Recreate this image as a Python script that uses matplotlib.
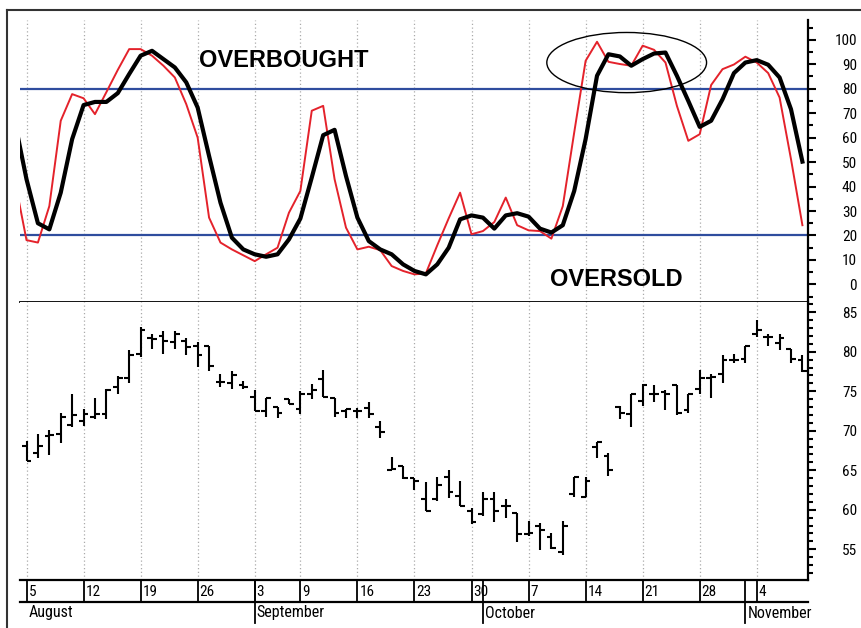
import numpy as np
import pandas as pd
import matplotlib
matplotlib.use("Agg")
import matplotlib.pyplot as plt
from matplotlib import font_manager
from matplotlib.patches import Ellipse
from matplotlib.lines import Line2D
from matplotlib.transforms import blended_transform_factory, offset_copy
from matplotlib.ticker import MultipleLocator, FixedLocator

# ---------------- data ----------------
trading_days = pd.bdate_range("2002-08-05", "2002-11-08")
trading_days = trading_days[trading_days != pd.Timestamp("2002-09-02")]  # Labor Day

opens = [68.1, 67.2, 69.3, 69.6, 70.7, 71.2, 71.7, 72.1, 75.5, 76.7,
         79.7, 81.8, 82.0, 81.2, 81.4, 80.7, 80.7, 76.2, 76.1, 75.8,
         74.3, 72.5, 73.0, 74.0, 72.7, 74.7, 76.5, 74.2, 72.5, 72.5,
         72.9, 70.5, 65.0, 65.5, 64.0, 61.3, 61.3, 64.2, 61.7, 59.9,
         59.4, 61.4, 60.5, 59.6, 56.9, 57.9, 56.5, 54.7, 62.0, 61.6,
         68.0, 66.8, 73.0, 72.1, 73.8, 74.7, 74.9, 75.8, 72.6, 75.3,
         76.7, 77.2, 78.9, 79.1, 82.3, 81.9, 81.1, 80.3, 78.9]
highs = [68.7, 69.6, 70.1, 72.3, 74.6, 72.8, 74.1, 75.3, 76.9, 80.2,
         83.1, 82.2, 82.6, 82.6, 81.7, 81.2, 80.7, 77.2, 77.6, 76.3,
         75.1, 74.1, 73.0, 74.0, 75.0, 75.9, 77.7, 74.2, 72.8, 72.9,
         73.7, 71.2, 66.7, 65.5, 64.0, 63.5, 64.1, 65.0, 63.6, 60.2,
         62.2, 62.2, 61.4, 59.6, 58.6, 58.3, 57.0, 58.6, 64.1, 64.1,
         68.6, 67.2, 73.1, 74.6, 75.9, 75.8, 75.1, 75.8, 74.7, 77.7,
         77.2, 79.6, 79.7, 80.7, 84.0, 82.3, 82.2, 80.3, 79.6]
lows = [66.2, 66.6, 66.9, 68.5, 70.5, 70.6, 71.5, 71.5, 74.7, 76.1,
        79.3, 80.3, 79.7, 80.4, 79.6, 78.1, 77.6, 75.5, 75.3, 75.3,
        72.5, 71.7, 71.6, 73.4, 72.1, 74.0, 74.3, 71.7, 71.6, 71.6,
        71.6, 69.1, 65.0, 63.9, 62.5, 59.8, 61.1, 61.5, 60.5, 58.2,
        59.2, 58.5, 59.0, 55.9, 56.7, 54.9, 55.0, 54.3, 61.6, 61.6,
        66.6, 64.3, 71.5, 70.5, 73.1, 73.7, 72.6, 72.0, 72.3, 74.6,
        74.2, 76.1, 78.6, 78.6, 81.9, 80.7, 80.2, 78.6, 77.4]
closes = [66.2, 68.1, 69.4, 71.7, 72.0, 72.1, 72.1, 75.2, 76.7, 79.6,
          82.8, 81.6, 81.3, 82.2, 80.6, 79.6, 78.2, 76.2, 77.1, 75.6,
          72.5, 74.1, 72.3, 73.4, 74.7, 75.2, 74.3, 72.2, 72.7, 72.5,
          72.1, 69.8, 65.1, 64.0, 63.6, 59.9, 63.1, 62.2, 60.5, 58.5,
          61.4, 59.9, 60.5, 56.9, 57.1, 57.4, 55.2, 58.0, 64.1, 63.6,
          68.6, 65.0, 72.3, 74.6, 75.8, 74.7, 74.7, 72.2, 74.7, 76.7,
          76.8, 78.9, 79.0, 80.7, 82.8, 81.9, 81.8, 79.1, 77.6]

# stochastic values start one session earlier (2002-08-02)
pct_k = [42.0, 18.1, 17.1, 32.0, 66.9, 77.8, 76.1, 69.6, 78.6, 87.7,
         96.2, 96.2, 93.5, 89.4, 84.6, 73.7, 60.0, 27.3, 17.1, 14.3,
         11.9, 9.5, 12.3, 15.0, 29.3, 38.2, 71.0, 73.0, 43.0, 23.2,
         14.3, 15.4, 14.0, 7.5, 5.5, 4.1, 4.5, 16.0, 27.0, 37.5,
         20.5, 21.8, 25.5, 35.5, 24.2, 22.1, 21.8, 18.7, 32.0, 62.1,
         91.4, 99.2, 91.0, 90.1, 89.4, 97.6, 95.9, 90.7, 73.0, 58.7,
         61.4, 81.5, 88.0, 89.9, 93.1, 90.7, 86.4, 76.4, 51.2, 24.2]
pct_d = [66.0, 43.0, 25.0, 22.5, 37.5, 59.4, 73.3, 74.6, 74.6, 78.2,
         86.0, 93.5, 95.5, 92.1, 88.7, 82.6, 72.3, 52.5, 33.4, 19.1,
         14.3, 12.3, 11.3, 12.3, 18.4, 26.9, 43.7, 61.0, 63.2, 44.3,
         27.3, 17.7, 14.3, 12.3, 8.2, 5.5, 4.1, 8.2, 15.0, 26.6,
         28.2, 27.3, 22.8, 28.2, 29.1, 27.7, 22.8, 21.2, 24.2, 38.2,
         59.4, 85.3, 94.1, 93.2, 89.4, 92.1, 94.4, 94.8, 85.3, 75.0,
         64.4, 66.9, 75.7, 86.4, 90.7, 91.7, 89.8, 84.6, 71.6, 50.2]

overbought_level = 80
oversold_level = 20
stoch_ticks = list(range(0, 101, 10))
price_ticks = list(range(55, 86, 5))

# ---------------- narrow font selection ----------------
def pick_narrow():
    ents = font_manager.fontManager.ttflist
    names = {f.name for f in ents}
    for cand in ["Liberation Sans Narrow", "Roboto Condensed", "Open Sans Condensed",
                 "Arial Narrow", "Nimbus Sans Narrow"]:
        if cand in names:
            return font_manager.FontProperties(family=cand)
    for f in ents:
        if f.name == "DejaVu Sans" and "condensed" in str(f.stretch).lower():
            return font_manager.FontProperties(fname=f.fname)
    for f in ents:
        if "ondensed" in f.fname or "Narrow" in f.fname:
            return font_manager.FontProperties(fname=f.fname)
    return font_manager.FontProperties(family="Liberation Sans")

NARROW = pick_narrow()

def nfp(size):
    p = NARROW.copy()
    p.set_size(size)
    return p

# ---------------- derived positions ----------------
n = len(trading_days)
xpos = np.arange(n)
xstoch = np.arange(-1, n)
iso_week = trading_days.isocalendar().week.values
week_idx = [i for i in range(n) if i == 0 or iso_week[i] != iso_week[i - 1]]
week_lbl = [str(trading_days[i].day) for i in week_idx]
month_idx = [i for i in range(n) if i > 0 and trading_days[i].month != trading_days[i - 1].month]
month_lbl_idx = [0] + month_idx
month_lbl = [trading_days[i].strftime("%B") for i in month_lbl_idx]

# ---------------- figure ----------------
W, H = 861, 628
fig = plt.figure(figsize=(W / 100, H / 100), dpi=100)
L, R = 20, 808
ax1 = fig.add_axes([L / W, 1 - 302 / H, (R - L) / W, (302 - 20) / H])
ax2 = fig.add_axes([L / W, 1 - 580 / H, (R - L) / W, (580 - 302) / H])

xlim = (-0.57, 68.49)
grid_kw = dict(color="#aaaaaa", lw=0.9, ls=(0, (1, 2)), zorder=0)
for ax in (ax1, ax2):
    ax.set_xlim(*xlim)
    for i in week_idx:
        ax.axvline(i, **grid_kw)
    ax.set_xticks([])
    for s in ("left", "top"):
        ax.spines[s].set_visible(False)
    ax.spines["right"].set_linewidth(1.6)
    ax.yaxis.tick_right()
    ax.tick_params(axis="y", which="major", direction="out", length=5.8, width=1.5, pad=29.5)
    ax.tick_params(axis="y", which="minor", direction="out", length=3.6, width=1.5)

# top panel
ax1.set_ylim(-7.2, 108.1)
ax1.spines["bottom"].set_linewidth(1.3)
ax1.axhline(overbought_level, color="#2f4d9e", lw=1.6, zorder=1)
ax1.axhline(oversold_level, color="#2f4d9e", lw=1.6, zorder=1)
ax1.plot(xstoch, pct_k, color="#e4222b", lw=1.4, zorder=3)
ax1.plot(xstoch, pct_d, color="black", lw=3.0, zorder=4, solid_joinstyle="round")
ax1.yaxis.set_major_locator(FixedLocator(stoch_ticks))
ax1.yaxis.set_minor_locator(MultipleLocator(5))
ax1.set_yticklabels([str(t) for t in stoch_ticks], fontproperties=nfp(11), ha="right")
ax1.text(22.57, 88.7, "OVERBOUGHT", family="Liberation Sans", weight="bold", fontsize=17,
         ha="center", va="baseline")
ax1.text(51.73, -0.7, "OVERSOLD", family="Liberation Sans", weight="bold", fontsize=17,
         ha="center", va="baseline")
ax1.add_patch(Ellipse((52.6, 90.7), 14.0, 24.6, fill=False, ec="black", lw=1.0, zorder=5))

# bottom panel
ax2.set_ylim(51.1, 86.3)
ax2.spines["top"].set_visible(False)
ax2.spines["bottom"].set_linewidth(1.6)
tw = 0.42
ax2.vlines(xpos, lows, highs, color="black", lw=1.5)
ax2.hlines(opens, xpos - tw, xpos, color="black", lw=1.5)
ax2.hlines(closes, xpos, xpos + tw, color="black", lw=1.5)
ax2.yaxis.set_major_locator(FixedLocator(price_ticks))
ax2.yaxis.set_minor_locator(MultipleLocator(1))
ax2.set_yticklabels([str(t) for t in price_ticks], fontproperties=nfp(11), ha="right")

# ---------------- date rows below chart ----------------
fy = lambda px: 1 - px / H
tr = blended_transform_factory(ax2.transData, fig.transFigure)
tra = blended_transform_factory(ax2.transAxes, fig.transFigure)
fig.add_artist(Line2D([0, 1], [fy(601.5)] * 2, transform=tra, color="black", lw=1.6))
for i in week_idx:
    fig.add_artist(Line2D([i, i], [fy(580), fy(601.5)], transform=tr, color="black", lw=1.3))
for i in month_idx:
    fig.add_artist(Line2D([i, i], [fy(580), fy(623)], transform=tr, color="black", lw=1.3))
tr_txt = offset_copy(tr, fig=fig, x=2, y=0, units="dots")
for i, lab in zip(week_idx, week_lbl):
    fig.text(i, fy(596), lab, transform=tr_txt, fontproperties=nfp(11),
             ha="left", va="baseline")
for i, lab in zip(month_lbl_idx, month_lbl):
    fig.text(i, fy(617.5), lab, transform=tr_txt, fontproperties=nfp(11.5),
             ha="left", va="baseline")

# outer frame lines
fig.add_artist(Line2D([7 / W, 1], [fy(9.5)] * 2, transform=fig.transFigure, color="#333333", lw=1.5))
fig.add_artist(Line2D([7 / W] * 2, [fy(9.5), 0], transform=fig.transFigure, color="#333333", lw=1.5))

fig.savefig("out.png", dpi=100)
